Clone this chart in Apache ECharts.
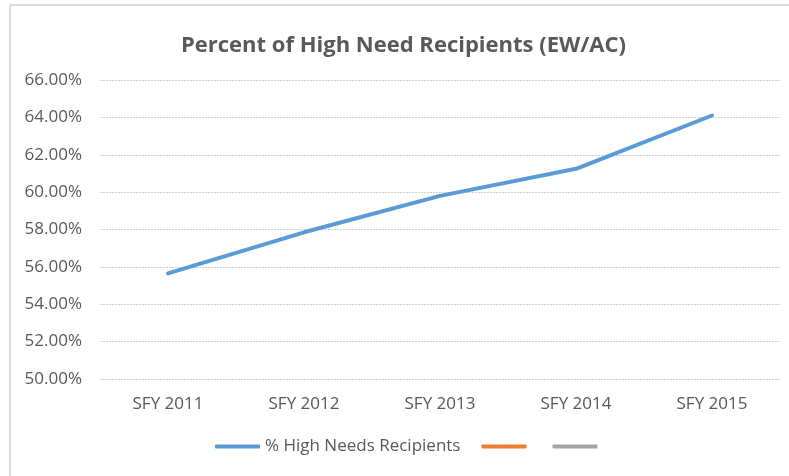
<!DOCTYPE html>
<html>
<head>
<meta charset="utf-8">
<script src="https://cdn.jsdelivr.net/npm/echarts@6/dist/echarts.min.js"></script>
<style>
  html, body { margin: 0; padding: 0; background: #fff; }
  #chart { width: 789px; height: 476px; }
</style>
</head>
<body>
<div id="chart"></div>
<script>
  // data
  var categories = ['SFY 2011', 'SFY 2012', 'SFY 2013', 'SFY 2014', 'SFY 2015'];
  var highNeeds = [55.65, 57.85, 59.8, 61.25, 64.1];
  var seriesNames = ['% High Needs Recipients', '\u200b', '\u200b\u200b'];
  var seriesColors = ['#5b9bd5', '#ed7d31', '#a5a5a5'];

  var textColor = '#595959';
  var font = '"Open Sans", sans-serif';

  var chart = echarts.init(document.getElementById('chart'));

  chart.setOption({
    animation: false,
    color: seriesColors,
    title: {
      text: 'Percent of High Need Recipients (EW/AC)',
      left: 181,
      top: 35,
      padding: 0,
      textStyle: {
        fontFamily: font,
        fontSize: 22,
        fontWeight: 'bold',
        color: textColor
      }
    },
    graphic: [
      // thin chart frame, top and left edges only
      { type: 'line', shape: { x1: 10, y1: 5, x2: 789, y2: 5 }, style: { stroke: '#dcdcdc', lineWidth: 2 } },
      { type: 'line', shape: { x1: 10, y1: 5, x2: 10, y2: 476 }, style: { stroke: '#dcdcdc', lineWidth: 2 } }
    ],
    legend: {
      data: seriesNames,
      left: 215,
      top: 438,
      padding: 0,
      itemWidth: 45,
      itemHeight: 4,
      itemGap: 21,
      icon: 'roundRect',
      textStyle: {
        fontFamily: font,
        fontSize: 17,
        color: textColor
      }
    },
    grid: {
      left: 100,
      right: 9,
      top: 80,
      bottom: 97
    },
    xAxis: {
      type: 'category',
      data: categories,
      boundaryGap: true,
      axisLine: { show: false },
      axisTick: { show: false },
      axisLabel: {
        margin: 17,
        fontFamily: font,
        fontSize: 17,
        color: textColor
      }
    },
    yAxis: {
      type: 'value',
      min: 50,
      max: 66,
      interval: 2,
      axisLine: { show: false },
      axisTick: { show: false },
      splitLine: {
        lineStyle: { color: '#d0d0d0', type: [2, 1], width: 1 }
      },
      axisLabel: {
        margin: 18,
        fontFamily: font,
        fontSize: 17,
        color: textColor,
        formatter: function (v) { return v.toFixed(2) + '%'; }
      }
    },
    series: [
      {
        name: seriesNames[0],
        type: 'line',
        data: highNeeds,
        showSymbol: false,
        lineStyle: { width: 4, color: seriesColors[0], cap: 'round' }
      },
      {
        name: seriesNames[1],
        type: 'line',
        data: [],
        showSymbol: false,
        lineStyle: { width: 4, color: seriesColors[1] }
      },
      {
        name: seriesNames[2],
        type: 'line',
        data: [],
        showSymbol: false,
        lineStyle: { width: 4, color: seriesColors[2] }
      }
    ]
  });
</script>
</body>
</html>
